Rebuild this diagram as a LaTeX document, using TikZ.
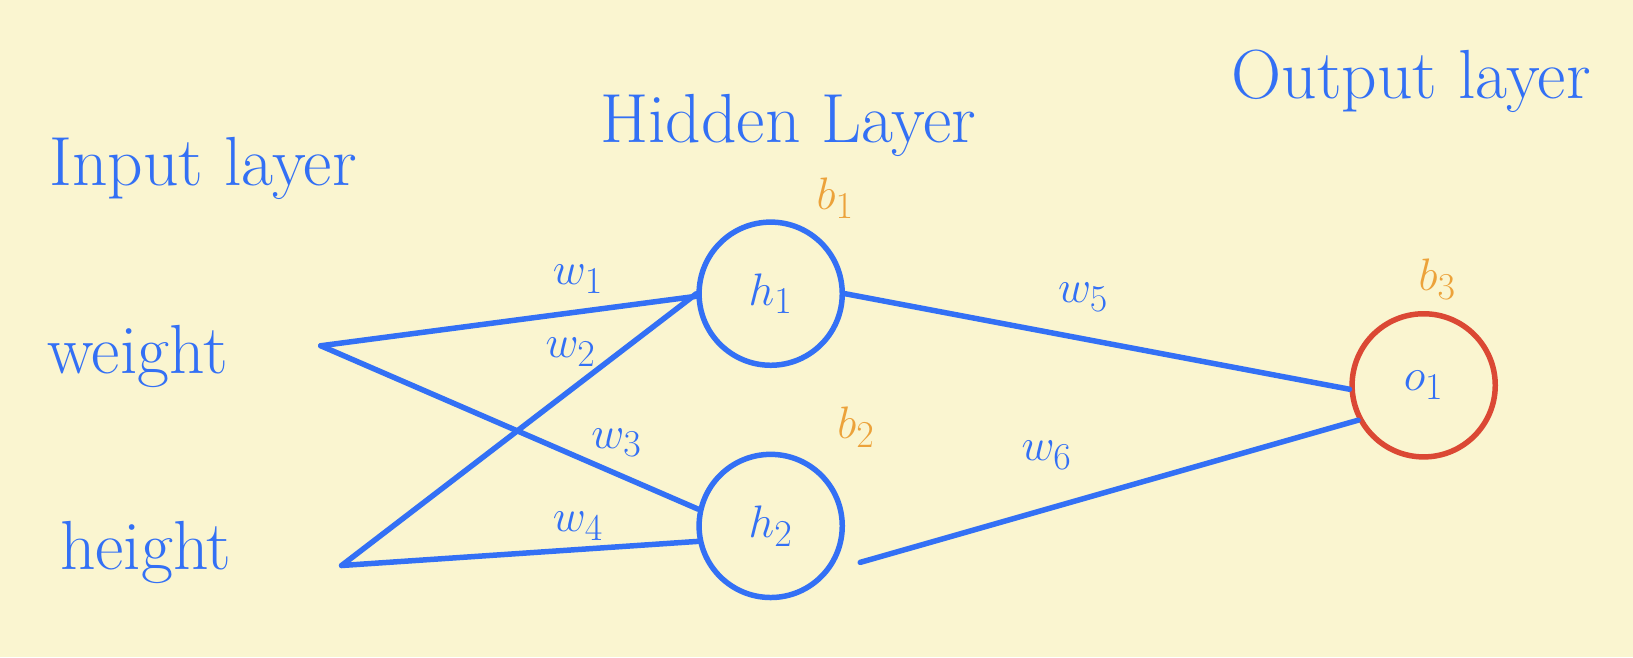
\documentclass[tikz,border=0pt]{standalone}
\usetikzlibrary{positioning}
\definecolor{paper}{RGB}{250,245,208}
\definecolor{pen}{RGB}{51,112,245}
\definecolor{bias}{RGB}{236,162,58}
\definecolor{outred}{RGB}{219,72,52}
\tikzset{
	neuron/.style={circle, draw=pen, line width=3pt, minimum size=2.75cm, inner sep=0pt, text=pen, font=\fontsize{32}{38}\selectfont},
	conn/.style={draw=pen, line width=3pt, line cap=round},
	lbl/.style={text=pen, font=\fontsize{38}{44}\selectfont},
	wlbl/.style={text=pen, font=\fontsize{28}{32}\selectfont},
	blbl/.style={text=bias, font=\fontsize{28}{32}\selectfont}
}
\begin{document}
\begin{tikzpicture}[x=0.02cm, y=-0.02cm]
	\fill[paper] (0,0) rectangle (1568,631);
	% Layer titles
	\node[lbl] (tin) at (195,162) {Input layer};
	\node[lbl] (thid) at (757,120) {Hidden Layer};
	\node[lbl] (tout) at (1355,78) {Output layer};
	% Inputs
	\node[lbl] (xw) at (132,342) {weight};
	\node[lbl] (xh) at (140,530) {height};
	\coordinate (pw) at (308,332);
	\coordinate (ph) at (328,543);
	% Neurons
	\node[neuron] (h1) at (740,282) {$h_1$};
	\node[neuron] (h2) at (740,505) {$h_2$};
	\node[neuron, draw=outred] (o1) at (1367,370) {$o_1$};
	\coordinate (q2) at (826,540);
	% Biases
	\node[blbl] (b1) at (802,190) {$b_1$};
	\node[blbl] (b2) at (822,410) {$b_2$};
	\node[blbl] (b3) at (1380,268) {$b_3$};
	% Connections
	\draw[conn] (pw) -- (h1.182);
	\draw[conn] (pw) -- (h2.167);
	\draw[conn] (ph) -- (h1.180);
	\draw[conn] (ph) -- (h2.192);
	\draw[conn] (h1.east) -- (o1.183);
	\draw[conn] (q2) -- (o1.208);
	% Weights
	\node[wlbl] (w1) at (555,268) {$w_1$};
	\node[wlbl] (w2) at (548,338) {$w_2$};
	\node[wlbl] (w3) at (592,425) {$w_3$};
	\node[wlbl] (w4) at (555,505) {$w_4$};
	\node[wlbl] (w5) at (1040,285) {$w_5$};
	\node[wlbl] (w6) at (1005,437) {$w_6$};
\end{tikzpicture}
\end{document}
